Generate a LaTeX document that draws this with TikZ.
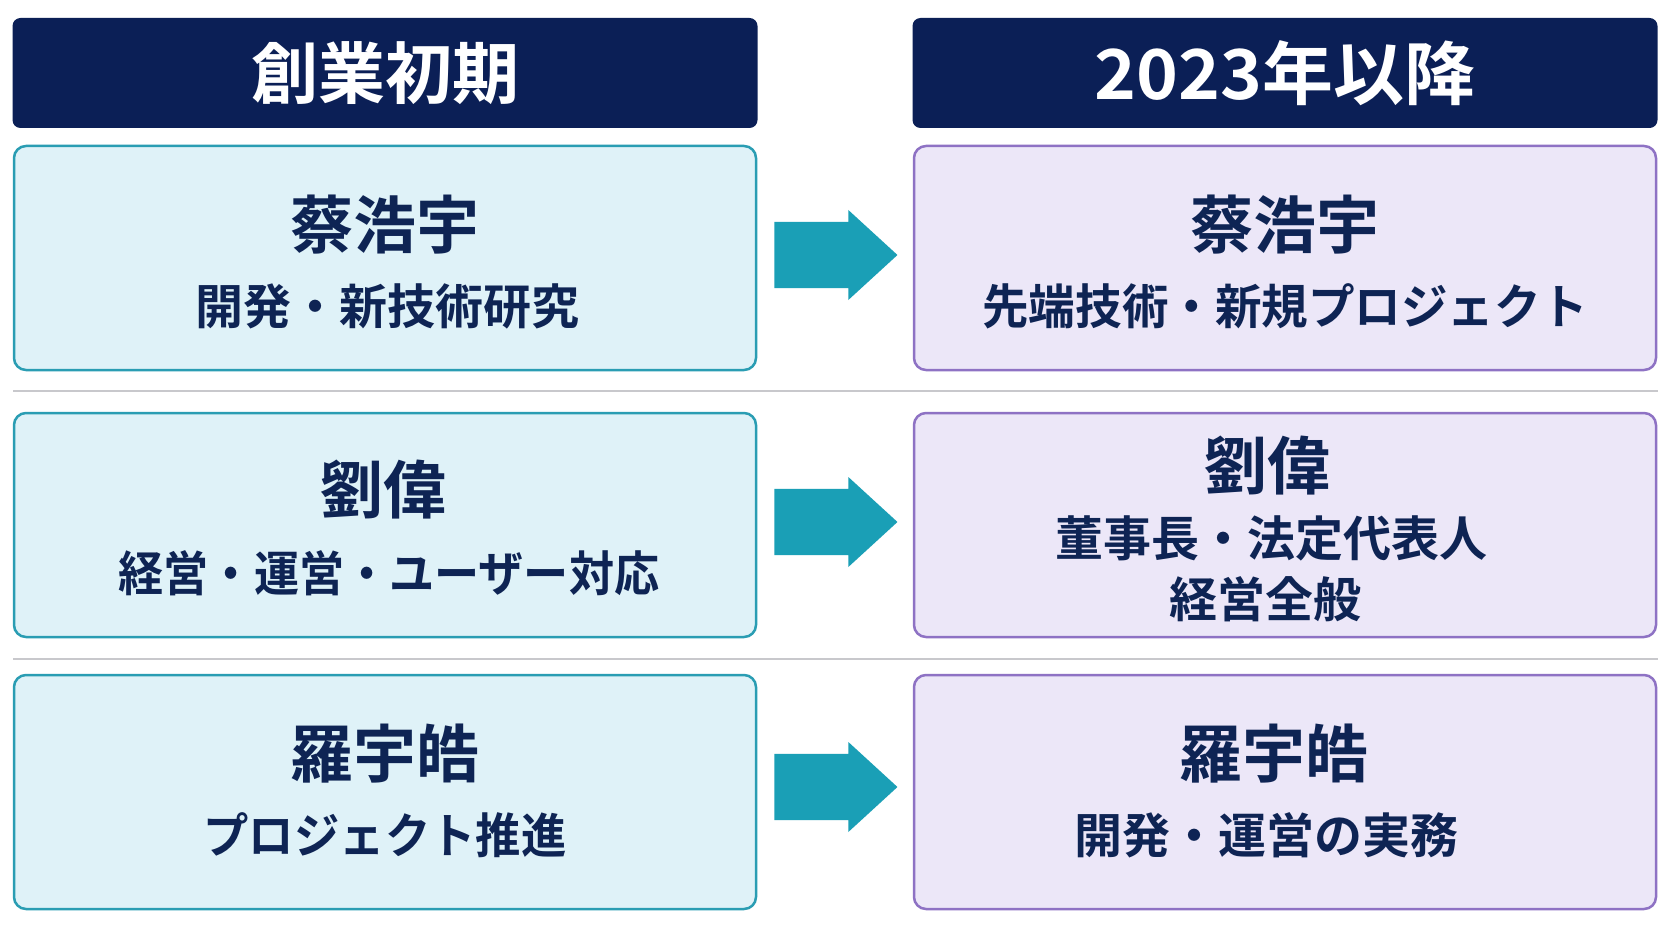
\documentclass[tikz,border=0pt]{standalone}
\usepackage{fontspec}
\newfontfamily\cjk{Noto Sans CJK JP}[BoldFont={* Bold}]
\usetikzlibrary{shapes.arrows,calc}
\definecolor{navy}{HTML}{0B1F56}
\definecolor{txt}{HTML}{0E2454}
\definecolor{lfill}{HTML}{DFF2F8}
\definecolor{lline}{HTML}{2A9DB3}
\definecolor{rfill}{HTML}{ECE7F8}
\definecolor{rline}{HTML}{8E72C4}
\definecolor{arrc}{HTML}{1A9FB6}
\definecolor{sepc}{HTML}{C8C8CC}
\tikzset{
  hdr/.style={fill=navy, rounded corners=8pt, minimum width=745pt, minimum height=110pt, inner sep=0pt},
  hdrtext/.style={text=white, font=\cjk\bfseries\fontsize{67}{70}\selectfont, inner sep=0pt},
  lbox/.style={fill=lfill, draw=lline, line width=2.5pt, rounded corners=12pt, minimum width=742pt, minimum height=224pt, inner sep=0pt},
  rbox/.style={fill=rfill, draw=rline, line width=2.5pt, rounded corners=12pt, minimum width=742pt, minimum height=224pt, inner sep=0pt},
  nametext/.style={text=txt, font=\cjk\bfseries\fontsize{63}{66}\selectfont, inner sep=0pt},
  subtext/.style={text=txt, font=\cjk\bfseries\fontsize{48}{52}\selectfont, inner sep=0pt},
  bigarrow/.style={single arrow, fill=arrc, draw=none, inner xsep=0pt, inner ysep=19.5pt, minimum height=123pt, minimum width=90pt, single arrow tip angle=85, anchor=tail},
  sepline/.style={draw=sepc, line width=1.5pt}
}
\begin{document}
\begin{tikzpicture}[x=1pt, y=-1pt]
\useasboundingbox[fill=white] (0,0) rectangle (1672,941);
% headers
\node[hdr] (hl) at (385,73) {};
\node[hdr] (hr) at (1285,73) {};
\node[hdrtext] (hlt) at (hl.center) {創業初期};
\node[hdrtext] (hrt) at (hr.center) {\scalebox{1.06}[1.03]{2023年以降}};
% row 1
\node[lbox] (l1) at (385,258) {};
\node[rbox] (r1) at (1285,258) {};
\node[nametext] (l1n) at (385,225) {蔡浩宇};
\node[subtext] (l1s) at (387,306) {開発・新技術研究};
\node[nametext] (r1n) at (1285,225) {蔡浩宇};
\node[subtext] (r1s) at (1285,306) {\scalebox{0.97}[1]{先端技術・新規プロジェクト}};
% separator 1
\coordinate (s1a) at (13,391);
\coordinate (s1b) at (1658,391);
\draw[sepline] (s1a) -- (s1b);
% row 2
\node[lbox] (l2) at (385,525) {};
\node[rbox] (r2) at (1285,525) {};
\node[nametext] (l2n) at (383,490) {劉偉};
\node[subtext] (l2s) at (389,573) {\scalebox{0.94}[1]{経営・運営・ユーザー対応}};
\node[nametext] (r2n) at (1267,466) {劉偉};
\node[subtext] (r2s) at (1271,538) {董事長・法定代表人};
\node[subtext] (r2t) at (1265,599) {経営全般};
% separator 2
\coordinate (s2a) at (13,659);
\coordinate (s2b) at (1658,659);
\draw[sepline] (s2a) -- (s2b);
% row 3
\node[lbox, minimum height=234pt] (l3) at (385,792) {};
\node[rbox, minimum height=234pt] (r3) at (1285,792) {};
\node[nametext] (l3n) at (385,754) {羅宇皓};
\node[subtext] (l3s) at (385,835) {\scalebox{0.945}[1]{プロジェクト推進}};
\node[nametext] (r3n) at (1274,754) {羅宇皓};
\node[subtext] (r3s) at (1266,835) {開発・運営の実務};
% arrows
\node[bigarrow] (a1) at ($(l1.east)+(17,-3)$) {};
\node[bigarrow] (a2) at ($(l2.east)+(17,-3)$) {};
\node[bigarrow] (a3) at ($(l3.east)+(17,-5)$) {};
\end{tikzpicture}
\end{document}
